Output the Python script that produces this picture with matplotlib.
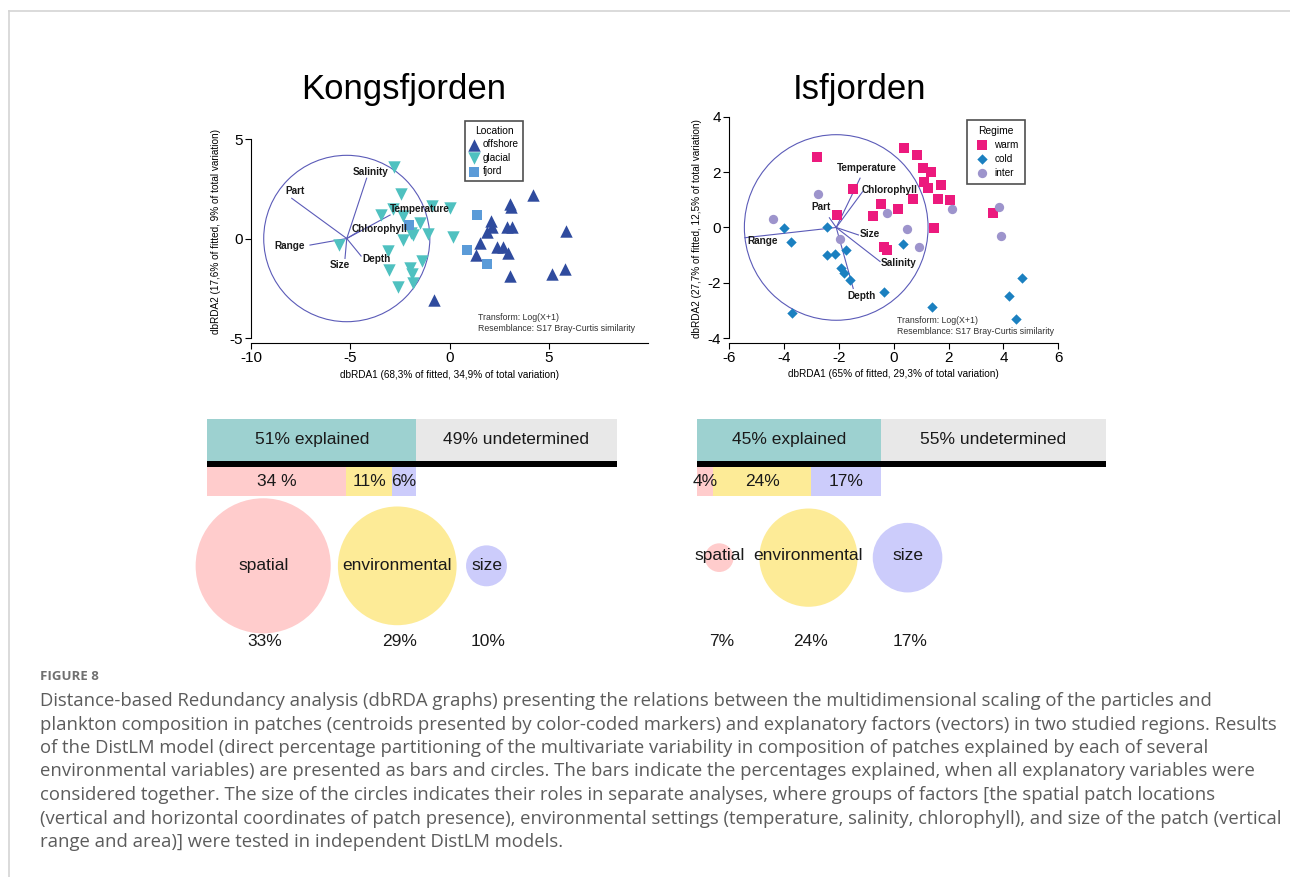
import matplotlib
matplotlib.use("Agg")
import matplotlib.pyplot as plt
from matplotlib.patches import Circle
from matplotlib.lines import Line2D

W, H = 1290, 877
plt.rcParams['font.family'] = ['Liberation Sans', 'DejaVu Sans']
plt.rcParams['axes.unicode_minus'] = False

# --- Kongsfjorden dbRDA centroids ---
kong_offshore_x = [4.17, 3.05, 3.10, 2.06, 2.13, 1.90, 2.90, 3.15, 5.85, 1.52,
                   2.40, 2.68, 2.95, 1.34, 3.01, 5.14, 5.81, -0.79]
kong_offshore_y = [2.21, 1.72, 1.60, 0.89, 0.57, 0.35, 0.58, 0.58, 0.37, -0.24,
                   -0.44, -0.44, -0.74, -0.85, -1.88, -1.78, -1.53, -3.08]
kong_glacial_x = [-2.80, -2.47, -3.47, -2.87, -2.33, -0.91, 0.02, -1.49, -1.83, -1.95, -2.37,
                  -1.08, 0.18, -3.09, -1.41, -3.04, -2.00, -1.91, -1.83, -2.59, -5.55]
kong_glacial_y = [3.61, 2.22, 1.18, 1.47, 1.13, 1.63, 1.52, 0.79, 0.18, 0.29, -0.08,
                  0.23, 0.06, -0.61, -1.11, -1.58, -1.50, -1.78, -2.25, -2.42, -0.35]
kong_fjord_x = [1.36, 0.89, 1.86, -2.03]
kong_fjord_y = [1.18, -0.58, -1.30, 0.68]

kong_vec_names = ['Salinity', 'Part', 'Temperature', 'Chlorophyll', 'Range', 'Size', 'Depth']
kong_vec_x = [-4.18, -7.95, -3.00, -4.60, -7.03, -5.27, -4.46]
kong_vec_y = [3.03, 2.02, 1.18, 0.35, -0.33, -1.00, -0.88]
kong_lab_x = [-3.96, -7.79, -1.49, -3.51, -8.04, -5.52, -3.67]
kong_lab_y = [3.33, 2.40, 1.47, 0.48, -0.38, -1.33, -1.05]

# --- Isfjorden dbRDA centroids ---
isf_warm_x = [-2.80, -1.50, -2.06, -0.48, -0.77, 0.17, -0.34, -0.25, 0.38, 0.83,
              1.06, 1.35, 1.09, 1.23, 1.72, 0.71, 1.61, 2.06, 3.60, 1.45]
isf_warm_y = [2.53, 1.38, 0.45, 0.86, 0.42, 0.66, -0.69, -0.82, 2.86, 2.60,
              2.15, 2.01, 1.65, 1.42, 1.52, 1.03, 1.03, 0.98, 0.54, -0.01]
isf_cold_x = [-4.02, -2.45, -3.74, -2.42, -2.13, -1.76, -1.93, -1.82, -1.59, -0.36,
              -3.70, 0.35, 1.40, 4.69, 4.21, 4.44]
isf_cold_y = [-0.03, 0.01, -0.53, -0.99, -0.97, -0.82, -1.48, -1.65, -1.90, -2.34,
              -3.09, -0.61, -2.86, -1.81, -2.46, -3.31]
isf_inter_x = [-2.78, -4.39, -0.26, -1.95, 0.49, 0.92, 2.14, 3.85, 3.90]
isf_inter_y = [1.21, 0.32, 0.53, -0.43, -0.07, -0.69, 0.67, 0.73, -0.31]

isf_vec_names = ['Temperature', 'Chlorophyll', 'Part', 'Range', 'Size', 'Salinity', 'Depth']
isf_vec_x = [-1.23, -1.14, -2.35, -5.43, -1.29, -0.50, -1.48]
isf_vec_y = [1.78, 1.29, 0.35, -0.37, -0.27, -1.23, -2.20]
isf_lab_x = [-0.99, -0.14, -2.67, -4.78, -0.89, 0.16, -1.17]
isf_lab_y = [2.14, 1.35, 0.73, -0.49, -0.25, -1.29, -2.46]

# --- DistLM partitioning (percent) ---
groups = ['spatial', 'environmental', 'size']
kong_explained = 51
kong_joint = [34, 11, 6]
kong_joint_labels = ['34 %', '11%', '6%']
kong_separate = [33, 29, 10]
isf_explained = 45
isf_joint = [4, 24, 17]
isf_joint_labels = ['4%', '24%', '17%']
isf_separate = [7, 24, 17]

caption_lines = [
    "Distance-based Redundancy analysis (dbRDA graphs) presenting the relations between the multidimensional scaling of the particles and",
    "plankton composition in patches (centroids presented by color-coded markers) and explanatory factors (vectors) in two studied regions. Results",
    "of the DistLM model (direct percentage partitioning of the multivariate variability in composition of patches explained by each of several",
    "environmental variables) are presented as bars and circles. The bars indicate the percentages explained, when all explanatory variables were",
    "considered together. The size of the circles indicates their roles in separate analyses, where groups of factors [the spatial patch locations",
    "(vertical and horizontal coordinates of patch presence), environmental settings (temperature, salinity, chlorophyll), and size of the patch (vertical",
    "range and area)] were tested in independent DistLM models.",
]

VEC_COL = '#5b5bb8'
PART_COLS = ['#ffcccc', '#fdeb97', '#ccccfb']


def px_rect(left, top, right, bottom):
    return [left / W, 1 - bottom / H, (right - left) / W, (bottom - top) / H]


def style_axes(ax, xlim, ylim, xticks, yticks, ybounds):
    ax.set_xlim(*xlim)
    ax.set_ylim(*ylim)
    ax.set_xticks(xticks)
    ax.set_yticks(yticks)
    for s in ['top', 'right']:
        ax.spines[s].set_visible(False)
    ax.spines['left'].set_bounds(*ybounds)
    ax.spines['bottom'].set_bounds(*xlim)
    for s in ['left', 'bottom']:
        ax.spines[s].set_linewidth(0.8)
    ax.tick_params(direction='out', length=4, width=0.8, labelsize=11, pad=2)
    ax.patch.set_visible(False)


def draw_vectors(ax, origin, r, vx, vy, lx, ly, names):
    ax.add_patch(Circle(origin, r, fill=False, ec=VEC_COL, lw=0.8, zorder=1))
    for x, y, tx, ty, n in zip(vx, vy, lx, ly, names):
        ax.plot([origin[0], x], [origin[1], y], color=VEC_COL, lw=0.8, zorder=1)
        ax.text(tx, ty, n, ha='center', va='center', fontsize=7.2,
                fontweight='bold', color='#1a1a1a', zorder=3)


def add_notes(ax, x, y):
    ax.text(x, y, 'Transform: Log(X+1)\nResemblance: S17 Bray-Curtis similarity',
            transform=ax.transAxes, fontsize=6.3, color='#333333',
            ha='left', va='top', linespacing=1.35)


def add_legend(ax, handles, title, anchor, handlelength=1.0, borderpad=0.45,
               labelspacing=0.35):
    leg = ax.legend(handles=handles, title=title, loc='upper left',
                    bbox_to_anchor=anchor, borderaxespad=0, fontsize=7.2,
                    title_fontsize=7.4, frameon=True, fancybox=False,
                    handlelength=handlelength, handletextpad=0.3,
                    labelspacing=labelspacing, borderpad=borderpad)
    leg.get_frame().set_edgecolor('#222222')
    leg.get_frame().set_linewidth(1.2)
    return leg


fig = plt.figure(figsize=(W / 100, H / 100), dpi=100)

# border of the figure panel
fig.add_artist(Line2D([9 / W, 1], [1 - 11 / H, 1 - 11 / H], color='#d4d4d4', lw=1.2))
fig.add_artist(Line2D([9 / W, 9 / W], [0, 1 - 11 / H], color='#d4d4d4', lw=1.2))

# ---------------- Kongsfjorden ordination ----------------
ax1 = fig.add_axes(px_rect(251, 119.1, 648.4, 343))
style_axes(ax1, (-10, 10), (-5.25, 6.0), [-10, -5, 0, 5], [-5, 0, 5], (-5, 5))
draw_vectors(ax1, (-5.18, 0.0), 4.18, kong_vec_x, kong_vec_y, kong_lab_x, kong_lab_y,
             kong_vec_names)
h1 = ax1.scatter(kong_offshore_x, kong_offshore_y, marker='^', s=80, c='#2f4b9e',
                 lw=0, zorder=2, label='offshore')
h2 = ax1.scatter(kong_glacial_x, kong_glacial_y, marker='v', s=80, c='#4fc1c0',
                 lw=0, zorder=2, label='glacial')
h3 = ax1.scatter(kong_fjord_x, kong_fjord_y, marker='s', s=55, c='#5b9bd8',
                 lw=0, zorder=2, label='fjord')
add_legend(ax1, [h1, h2, h3], 'Location', (0.5385, 0.99))
ax1.set_xlabel('dbRDA1 (68,3% of fitted, 34,9% of total variation)', fontsize=7.2, labelpad=3)
ax1.set_ylabel('dbRDA2 (17,6% of fitted, 9% of total variation)', fontsize=7.2, labelpad=6)
add_notes(ax1, 0.57, 0.135)
fig.text(404 / W, 1 - 90 / H, 'Kongsfjorden', ha='center', va='center', fontsize=25)

# ---------------- Isfjorden ordination ----------------
ax2 = fig.add_axes(px_rect(729.3, 115.3, 1058.3, 342.7))
style_axes(ax2, (-6, 6), (-4.16, 4.05), [-6, -4, -2, 0, 2, 4, 6], [-4, -2, 0, 2, 4], (-4, 4))
draw_vectors(ax2, (-2.1, 0.0), 3.35, isf_vec_x, isf_vec_y, isf_lab_x, isf_lab_y,
             isf_vec_names)
g1 = ax2.scatter(isf_warm_x, isf_warm_y, marker='s', s=45, c='#ec1a7d',
                 lw=0, zorder=2, label='warm')
g2 = ax2.scatter(isf_cold_x, isf_cold_y, marker='D', s=28, c='#1b80c0',
                 lw=0, zorder=2, label='cold')
g3 = ax2.scatter(isf_inter_x, isf_inter_y, marker='o', s=45, c='#9d94cc',
                 lw=0, zorder=2, label='inter')
add_legend(ax2, [g1, g2, g3], 'Regime', (0.7234, 0.98), handlelength=1.8,
           borderpad=0.6, labelspacing=0.4)
ax2.set_xlabel('dbRDA1 (65% of fitted, 29,3% of total variation)', fontsize=7.2, labelpad=3)
ax2.set_ylabel('dbRDA2 (27,7% of fitted, 12,5% of total variation)', fontsize=7.2, labelpad=4)
add_notes(ax2, 0.51, 0.118)
fig.text(860 / W, 1 - 90 / H, 'Isfjorden', ha='center', va='center', fontsize=25)


# ---------------- DistLM bars and circles ----------------
def draw_partition(left_px, explained, joint, joint_labels, separate, cx, cy, label_y):
    unit = 409.4 / 100
    ax = fig.add_axes(px_rect(left_px - 5 * unit, 660 - 60 * unit, left_px + 101 * unit, 660))
    ax.set_xlim(-5, 101)
    ax.set_ylim(0, 60)
    ax.axis('off')
    fs = 12.5
    ax.barh(53.74, explained, height=10.1, left=0, color='#9dd1d0', lw=0)
    ax.barh(53.74, 100 - explained, height=10.1, left=explained, color='#e8e8e8', lw=0)
    ax.text(explained / 2, 53.74, f'{explained}% explained', ha='center', va='center',
            fontsize=fs, color='#1a1a1a')
    ax.text((100 + explained) / 2, 53.74, f'{100 - explained}% undetermined',
            ha='center', va='center', fontsize=fs, color='#1a1a1a')
    ax.barh(47.87, 100, height=1.6, left=0, color='black', lw=0)
    start = 0
    for v, lab, col in zip(joint, joint_labels, PART_COLS):
        ax.barh(43.57, v, height=7.0, left=start, color=col, lw=0)
        ax.text(start + v / 2, 43.57, lab, ha='center', va='center', fontsize=fs,
                color='#1a1a1a')
        start += v
    for v, g, x, col in zip(separate, groups, cx, PART_COLS):
        ax.add_patch(Circle((x, cy), v / 2, color=col, lw=0))
        ax.text(x, label_y, g, ha='center', va='center', fontsize=fs, color='#1a1a1a')
        ax.text(x + 0.5, 4.47, f'{v}%', ha='center', va='center', fontsize=fs,
                color='#1a1a1a')


draw_partition(207.3, kong_explained, kong_joint, kong_joint_labels, kong_separate,
               [13.65, 46.4, 68.2], 23.0, 23.2)
draw_partition(696.7, isf_explained, isf_joint, isf_joint_labels, isf_separate,
               [5.5, 27.3, 51.5], 25.0, 25.5)

# ---------------- caption ----------------
fig.text(40 / W, 1 - 676 / H, 'FIGURE 8', fontsize=9.5, fontweight='bold',
         color='#707070', ha='left', va='center', family='Open Sans')
for i, line in enumerate(caption_lines):
    fig.text(40 / W, 1 - (701 + i * 23.5) / H, line, fontsize=13.3, color='#5c5c5c',
             ha='left', va='center', family='Open Sans')

fig.savefig('out.png', dpi=100)
